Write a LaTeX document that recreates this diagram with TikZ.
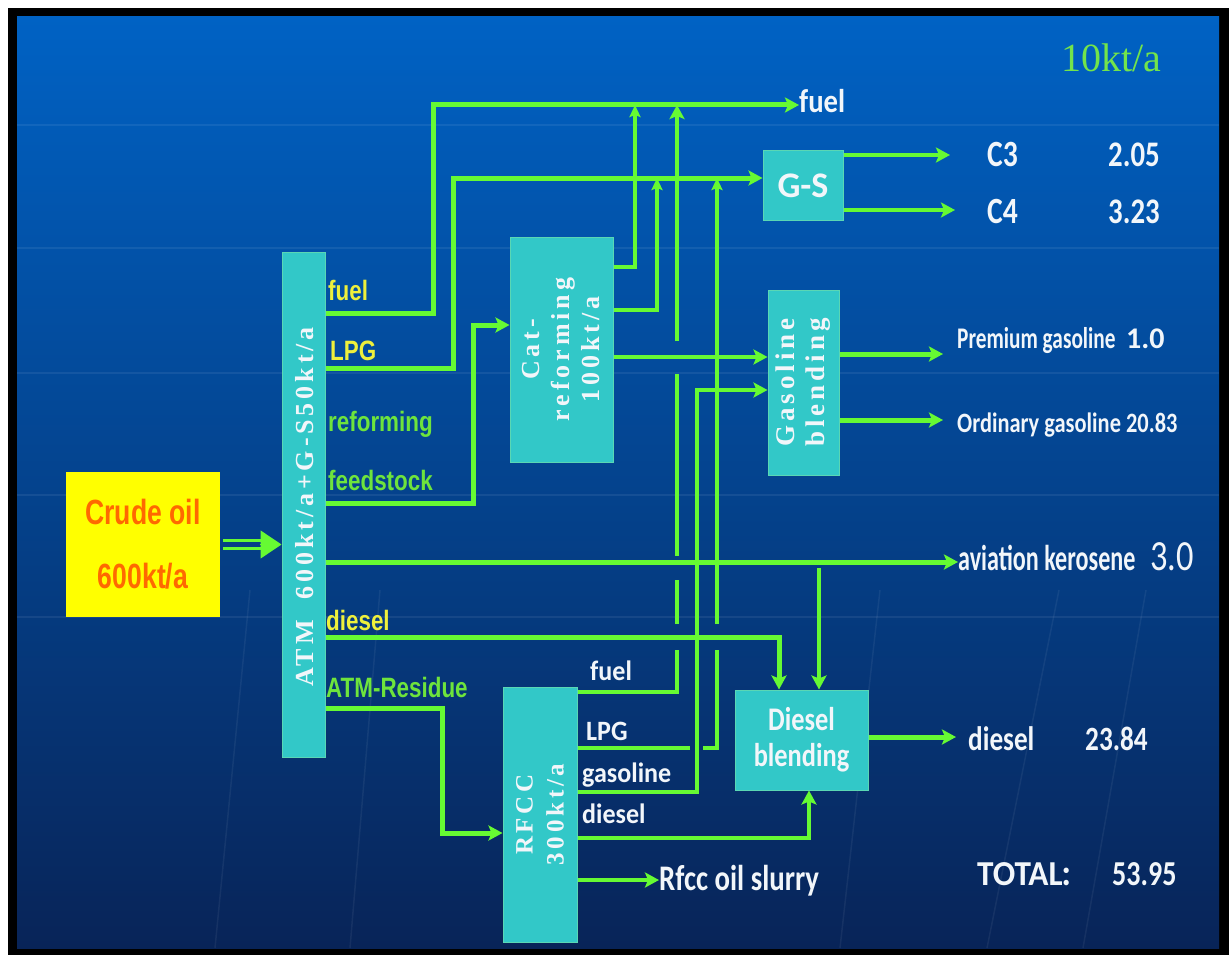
\documentclass[tikz,border=0pt]{standalone}
\usepackage{fontspec}
\setmainfont{Liberation Sans}
\newfontfamily\fnarrow[FakeStretch=0.8]{Liberation Sans}
\newfontfamily\fcrude[FakeStretch=0.76]{Liberation Sans}
\newfontfamily\fcal[FakeStretch=0.8]{Carlito}
\newfontfamily\fcalw[FakeStretch=0.93]{Carlito}
\newfontfamily\fcaln[FakeStretch=0.67]{Carlito}
\newfontfamily\fcalx{Carlito}
\newfontfamily\fser[LetterSpace=15]{Liberation Serif}
\newfontfamily\ftitle{Liberation Serif}
\newfontfamily\fcjk{Noto Sans CJK SC}
\usetikzlibrary{arrows.meta,calc}
\definecolor{lgreen}{RGB}{102,250,51}
\definecolor{lyel}{RGB}{238,240,60}
\definecolor{lgrn}{RGB}{110,228,60}
\definecolor{tgreen}{RGB}{115,228,75}
\definecolor{boxteal}{RGB}{50,200,200}
\definecolor{boxedge}{RGB}{90,215,180}
\definecolor{bgtop}{RGB}{0,98,196}
\definecolor{bgmid}{RGB}{0,74,160}
\definecolor{bgbot}{RGB}{8,36,88}
\definecolor{txtw}{RGB}{242,246,250}
\definecolor{crudeor}{RGB}{255,105,0}
\definecolor{crudey}{RGB}{255,255,0}
\tikzset{
  box/.style={draw=boxedge, line width=1pt, fill=boxteal, inner sep=0pt},
  thk/.style={draw=lgreen, line width=5pt},
  med/.style={draw=lgreen, line width=4pt},
  thn/.style={draw=lgreen, line width=3.2pt},
  arr/.style={-{Stealth[length=14pt,width=15pt,inset=3pt]}},
  sarr/.style={-{Stealth[length=12pt,width=11pt,inset=2pt]}},
  wl/.style={anchor=base west, inner sep=0pt, text=txtw},
  atml/.style={anchor=base west, inner sep=0pt, font=\fnarrow\bfseries\fontsize{28}{30}\selectfont},
  rl/.style={anchor=base west, inner sep=0pt, text=txtw, font=\fcalw\bfseries\fontsize{28}{30}\selectfont},
  rot/.style={rotate=90, align=center, text=txtw, inner sep=0pt},
  faint/.style={draw=white, opacity=0.07, line width=2pt},
  merid/.style={draw=white, opacity=0.06, line width=1.5pt}
}
\begin{document}
\begin{tikzpicture}[x=1pt,y=-1pt]
\useasboundingbox (0,0) rectangle (1229,955);
\fill[white] (0,0) rectangle (1229,955);
\fill[black] (8,8) rectangle (1229,955);
\shade[top color=bgtop, middle color=bgmid, bottom color=bgbot] (17,17) rectangle (1219,948);
\foreach \yy in {125,248,373,495,617} \draw[faint] (17,\yy) -- (1219,\yy);
\foreach \xa/\xb in {1059/987, 1146/1083, 880/840, 250/215, 380/350} \draw[merid] (\xa,590) -- (\xb,948);

% title
\node[anchor=base, inner sep=0pt, text=tgreen, font=\ftitle\fontsize{40}{40}\selectfont] (unit) at (1111,72) {10kt/a};

% boxes
\node[fill=crudey, minimum width=154, minimum height=145, inner sep=0pt, align=center, text=crudeor,
      font=\fcrude\bfseries\fontsize{35}{64}\selectfont] (crude) at (143,544.5) {Crude oil\\600kt/a};
\node[box, minimum width=43, minimum height=505] (atm) at (303.5,504.5) {};
\node[rot, font=\fser\bfseries\fontsize{26}{28}\selectfont] (atmtxt) at (305,507) {ATM\ \ 600kt/a+G-S50kt/a};
\node[box, minimum width=103, minimum height=225] (cat) at (561.5,349.5) {};
\node[rot, font=\fser\bfseries\fontsize{26}{30}\selectfont] (cattxt) at (cat.center) {Cat-\\reforming\\100kt/a};
\node[box, minimum width=80, minimum height=69, text=txtw, font=\fcalx\bfseries\fontsize{36}{36}\selectfont] (gs) at (803,185.5) {G-S};
\node[box, minimum width=71, minimum height=185] (gasb) at (803.5,382.5) {};
\node[rot, font=\fser\bfseries\fontsize{27}{30}\selectfont] (gasbtxt) at (gasb.center) {Gasoline\\blending};
\node[box, minimum width=133, minimum height=100, align=center, text=txtw,
      font=\fcal\bfseries\fontsize{33}{36}\selectfont] (dieselb) at (801.5,740) {Diesel\\blending};
\node[box, minimum width=74, minimum height=255] (rfcc) at (540,814.5) {};
\node[rot, font=\fser\bfseries\fontsize{25}{31}\selectfont] (rfcctxt) at (rfcc.center) {RFCC\\300kt/a};

% ATM side labels
\node[atml, text=lyel] (lfuel) at (328,300) {fuel};
\node[atml, text=lyel] (llpg) at (330,360) {LPG};
\node[atml, text=lgrn] (lref) at (328,431) {reforming};
\node[atml, text=lgrn] (lfeed) at (328,490) {feedstock};
\node[atml, text=lyel] (ldsl) at (326,630) {diesel};
\node[atml, text=lgrn] (lres) at (326,697) {ATM-Residue};

% RFCC labels
\node[rl] (rfuel) at (590,680) {fuel};
\node[rl] (rlpg) at (586,740) {LPG};
\node[rl] (rgas) at (582,782) {gasoline};
\node[rl] (rdsl) at (582,823) {diesel};

% output labels
\node[wl, font=\fcalx\bfseries\fontsize{33}{34}\selectfont, xscale=0.87] (fuelout) at (799,113) {fuel};
\node[wl, font=\fcal\bfseries\fontsize{37}{38}\selectfont] (c3) at (987,167) {C3};
\node[wl, font=\fcal\bfseries\fontsize{36}{38}\selectfont] (c3v) at (1108,167) {2.05};
\node[wl, font=\fcal\bfseries\fontsize{37}{38}\selectfont] (c4) at (987,223) {C4};
\node[wl, font=\fcal\bfseries\fontsize{36}{38}\selectfont] (c4v) at (1108,223) {3.23};
\node[wl, font=\fcaln\bfseries\fontsize{30}{30}\selectfont, xscale=1.06] (prem) at (957,348) {Premium gasoline};
\node[wl, font=\fcalx\bfseries\fontsize{30}{30}\selectfont] (premv) at (1126,348) {1.0};
\node[wl, font=\fcal\bfseries\fontsize{28}{30}\selectfont] (ord) at (957,432) {Ordinary gasoline 20.83};
\node[wl, font=\fcaln\bfseries\fontsize{36}{36}\selectfont] (avk) at (958,570) {aviation kerosene};
\node[wl, font=\fcal\fontsize{43}{43}\selectfont] (avkv) at (1150,570) {3.0};
\node[wl, font=\fcal\bfseries\fontsize{34}{36}\selectfont] (dslout) at (968,750) {diesel};
\node[wl, font=\fcal\bfseries\fontsize{34}{36}\selectfont] (dslv) at (1085,750) {23.84};
\node[wl, font=\fcalx\bfseries\fontsize{35}{36}\selectfont, xscale=0.95] (total) at (977,885) {TOTAL\kern-2pt{\fcjk\fontsize{26}{26}\selectfont ：}};
\node[wl, font=\fcal\bfseries\fontsize{35}{36}\selectfont] (totalv) at (1112,885) {53.95};
\node[wl, font=\fcal\bfseries\fontsize{36}{36}\selectfont] (slurry) at (659,890) {Rfcc oil slurry};

% arrow end points
\coordinate (c3end) at (950,155);
\coordinate (c4end) at (955,210);
\coordinate (premend) at (943,354);
\coordinate (ordend) at (943,420);
\coordinate (dslend) at (956,737);

% crude -> ATM (double arrow)
\draw[lgreen, line width=2.6pt] ($(crude.east)+(3,-4)$) -- ($(atm.west |- crude.east)+(-18,-4)$);
\draw[lgreen, line width=2.6pt] ($(crude.east)+(3,4)$) -- ($(atm.west |- crude.east)+(-18,4)$);
\draw[lgreen, line width=1pt, -{Triangle[length=21pt,width=28pt]}] ($(atm.west |- crude.east)+(-22,0)$) -- (atm.west |- crude.east);

% ATM outputs
\draw[thk, arr] (atm.east |- 0,313) -- (433,313) -- (433,105) -- (fuelout.west |- 0,105);
\draw[thk, arr] (atm.east |- 0,368) -- (453,368) -- (453,178) -- (gs.west |- 0,178);
\draw[thk, arr] (atm.east |- 0,503) -- (473,503) -- (473,325) -- (cat.west |- 0,325);
\draw[thk, arr] (atm.east |- 0,562) -- (avk.west |- 0,562);
\draw[thk, arr] (atm.east |- 0,637) -- (779,637) -- (779,0 |- dieselb.north);
\draw[thk, arr] (atm.east |- 0,708) -- (442,708) -- (442,833) -- (rfcc.west |- 0,833);

% cat-reforming outputs
\draw[thn, sarr] (cat.east |- 0,267) -- (635,267) -- (635,105);
\draw[thn, sarr] (cat.east |- 0,310) -- (657,310) -- (657,178);
\draw[med, arr] (cat.east |- 0,357) -- (gasb.west |- 0,357);

% RFCC outputs
\draw[med] (rfcc.east |- 0,692) -- (677,692) -- (677,650);
\draw[med] (677,624) -- (677,580);
\draw[med] (677,556) -- (677,374);
\draw[med, arr] (677,341) -- (677,105);

\draw[thn] (rfcc.east |- 0,748) -- (690,748);
\draw[thn] (703,748) -- (717,748) -- (717,650);
\draw[thn, sarr] (717,624) -- (717,178);

\draw[med, arr] (rfcc.east |- 0,792) -- (697,792) -- (697,390) -- (gasb.west |- 0,390);
\draw[med, arr] (rfcc.east |- 0,838) -- (809,838) -- (809,0 |- dieselb.south);
\draw[med, arr] (rfcc.east |- 0,880) -- (slurry.west |- 0,880);

% kerosene tap to diesel blending
\draw[med, arr] (819,568) -- (819,0 |- dieselb.north);

% G-S outputs
\draw[med, arr] (gs.east |- 0,155) -- (c3end);
\draw[med, arr] (gs.east |- 0,210) -- (c4end);

% gasoline blending outputs
\draw[thk, arr] (gasb.east |- 0,354) -- (premend);
\draw[thk, arr] (gasb.east |- 0,420) -- (ordend);

% diesel blending output
\draw[thk, arr] (dieselb.east |- 0,737) -- (dslend);
\end{tikzpicture}
\end{document}
